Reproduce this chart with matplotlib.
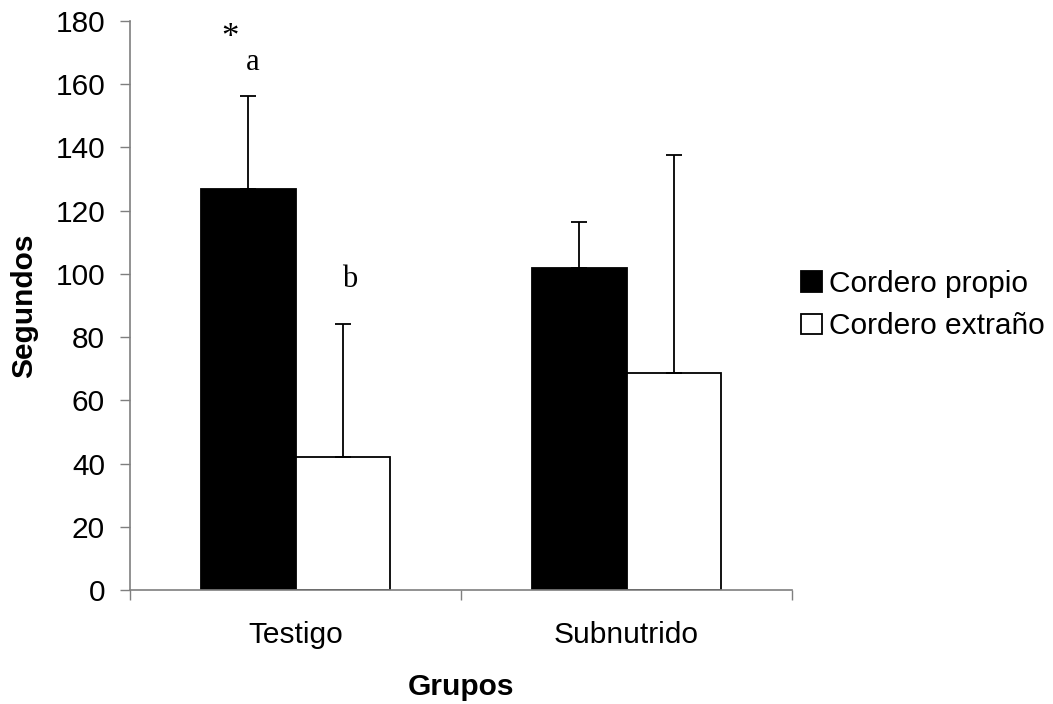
import matplotlib
matplotlib.use("Agg")
import matplotlib.pyplot as plt
import numpy as np
from matplotlib.patches import Patch

plt.rcParams['font.family'] = ['Liberation Sans', 'DejaVu Sans']

# Mean time (s) and upper error per group
grupos = ["Testigo", "Subnutrido"]
propio_media = [127.0, 101.9]
propio_error = [29.2, 14.4]
extrano_media = [42.1, 68.7]
extrano_error = [42.1, 69.0]
series_labels = ["Cordero propio", "Cordero extraño"]

# significance marks: (text, x, y, size)
marcas = [("*", -0.198, 171.8, 25), ("a", -0.128, 164.5, 22), ("b", 0.165, 96.0, 22)]

fs = 21.5
axis_col = "#7f7f7f"

fig = plt.figure(figsize=(10.53, 7.04), dpi=100)
ax = fig.add_axes([130 / 1053, 1 - 590 / 704, (792 - 130) / 1053, (590 - 21) / 704])

x = np.arange(len(grupos))
w = 0.287
ax.bar(x - w / 2, propio_media, w, color="black", edgecolor="black", lw=1.3, zorder=2)
ax.bar(x + w / 2, extrano_media, w, color="white", edgecolor="black", lw=1.3, zorder=2)

for offs, med, err in [(-w / 2, propio_media, propio_error), (w / 2, extrano_media, extrano_error)]:
    ax.errorbar(x + offs, med, yerr=[np.zeros(len(err)), err], fmt="none",
                ecolor="black", elinewidth=1.3, capsize=5.5, capthick=1.3, zorder=3)

for txt, tx, ty, size in marcas:
    ax.text(tx, ty, txt, family="Liberation Serif", fontsize=size, ha="center", va="baseline")

ax.set_xlim(-0.5, 1.5)
ax.set_ylim(0, 180)
ax.set_yticks(np.arange(0, 181, 20))
ax.set_xticks(x)
ax.set_xticklabels(grupos)
ax.set_xticks([-0.5, 0.5, 1.5], minor=True)
ax.tick_params(axis="x", which="major", length=0, pad=22, labelsize=fs)
ax.tick_params(axis="x", which="minor", length=7, width=1, color=axis_col, direction="out")
ax.tick_params(axis="y", length=7, width=1, color=axis_col, pad=11, labelsize=fs)

for s in ["top", "right"]:
    ax.spines[s].set_visible(False)
for s in ["left", "bottom"]:
    ax.spines[s].set_color(axis_col)
    ax.spines[s].set_linewidth(1.2)

ax.set_ylabel("Segundos", fontsize=fs, fontweight="bold")
ax.yaxis.set_label_coords(-0.139, 0.5)
ax.set_xlabel("Grupos", fontsize=fs, fontweight="bold")
ax.xaxis.set_label_coords(0.5, -0.146)

handles = [Patch(facecolor="black", edgecolor="black", lw=1.3),
           Patch(facecolor="white", edgecolor="black", lw=1.3)]
fig.legend(handles, series_labels, loc="center left", bbox_to_anchor=(801 / 1053, 1 - 305 / 704),
           frameon=False, fontsize=fs, handlelength=0.7, handleheight=0.7,
           handletextpad=0.25, labelspacing=0.5, borderpad=0, borderaxespad=0)

fig.savefig("out.png", dpi=100)
